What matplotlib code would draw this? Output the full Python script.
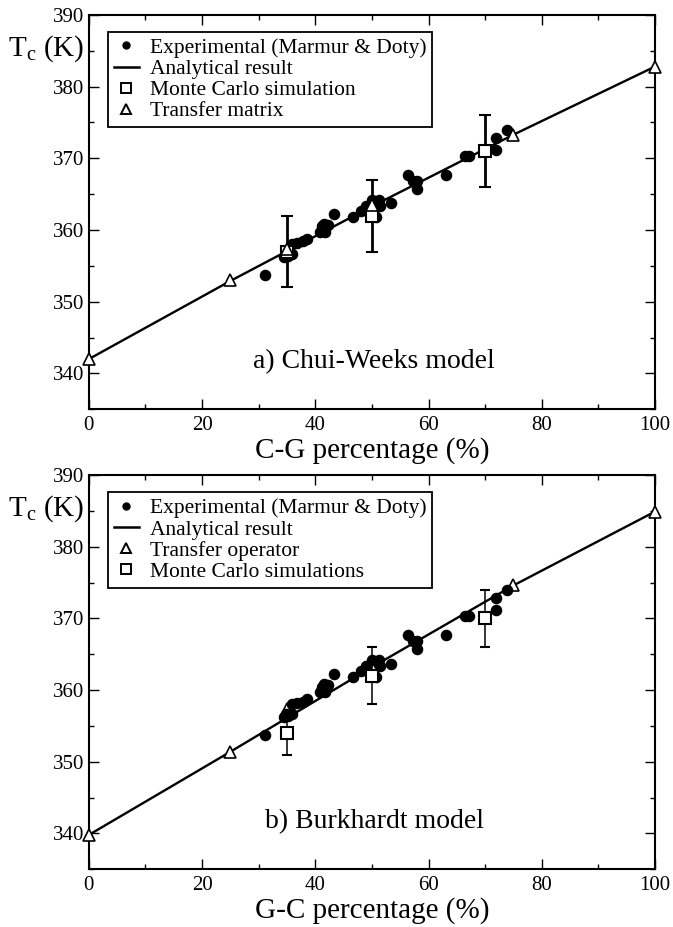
import numpy as np
import matplotlib
matplotlib.use("Agg")
import matplotlib.pyplot as plt
from matplotlib.lines import Line2D
from matplotlib.ticker import MultipleLocator

plt.rcParams['font.family'] = ['Liberation Serif', 'DejaVu Serif']
plt.rcParams['mathtext.fontset'] = 'custom'
plt.rcParams['mathtext.rm'] = 'Liberation Serif'

# --- datos experimentales (Marmur & Doty), iguales en ambos paneles ---
gc_exp = [31.1, 34.5, 34.8, 35.2, 35.8, 35.8, 36.7, 37.9, 38.5, 40.8, 41.1,
          41.5, 41.7, 42.3, 43.3, 46.6, 48.0, 48.9, 50.1, 50.8, 51.2, 51.4,
          53.4, 56.4, 57.3, 57.9, 58.0, 63.0, 66.4, 67.1, 71.9, 72.0, 73.8]
tc_exp = [353.7, 356.2, 356.7, 356.4, 356.7, 358.1, 358.2, 358.4, 358.8, 359.7, 360.5,
          360.8, 359.7, 360.7, 362.2, 361.8, 362.7, 363.3, 364.2, 361.8, 364.2, 363.3,
          363.7, 367.7, 366.9, 366.9, 365.7, 367.7, 370.3, 370.3, 372.8, 371.2, 373.9]

# --- a) Chui-Weeks ---
gc_line = [0, 25, 50, 75, 100]
tc_line_a = [342.0, 352.9, 363.3, 373.3, 382.8]
gc_tm = [0, 25, 35, 50, 75, 100]
tc_tm_a = [342.0, 353.0, 357.3, 363.5, 373.3, 382.8]
gc_mc = [35, 50, 70]
tc_mc_a = [357.0, 362.0, 371.0]
err_mc_a = [5, 5, 5]

# --- b) Burkhardt ---
tc_line_b = [339.8, 351.4, 363.2, 374.6, 384.9]
tc_tm_b = [339.8, 351.4, 357.4, 363.2, 374.6, 384.9]
tc_mc_b = [354.0, 362.0, 370.0]
err_mc_b = [3, 4, 4]

fig = plt.figure(figsize=(6.73, 9.27), dpi=100)
ax1 = fig.add_axes([0.132, 0.5585, 0.8413, 0.4254])
ax2 = fig.add_axes([0.132, 0.0622, 0.8413, 0.4254])


def estilo(ax, xlabel, titulo):
    ax.set_xlim(0, 100)
    ax.set_ylim(335, 390)
    ax.xaxis.set_major_locator(MultipleLocator(20))
    ax.xaxis.set_minor_locator(MultipleLocator(10))
    ax.yaxis.set_major_locator(MultipleLocator(10))
    ax.yaxis.set_minor_locator(MultipleLocator(5))
    ax.tick_params(which='both', direction='in', top=True, right=True, width=1.0)
    ax.tick_params(which='major', length=7.5, labelsize=15)
    ax.tick_params(which='minor', length=3.5)
    ax.tick_params(axis='x', pad=5)
    ax.tick_params(axis='y', pad=3.5)
    for s in ax.spines.values():
        s.set_linewidth(1.5)
    ax.set_xlabel(xlabel, fontsize=21, labelpad=1)
    ax.text(-0.1427, 0.896, r'T$_\mathregular{c}$ (K)', transform=ax.transAxes,
            fontsize=21, ha='left', va='baseline')
    ax.text(50.4, 341.6, titulo, fontsize=20, ha='center', va='center')


def leyenda(ax, entradas, y0):
    handles = []
    for tipo, lab in entradas:
        if tipo == 'o':
            h = Line2D([], [], ls='none', marker='o', ms=5, color='black')
        elif tipo == '-':
            h = Line2D([], [], ls='-', lw=1.8, color='black')
        else:
            h = Line2D([], [], ls='none', marker=tipo, ms=6.5, mfc='white',
                       mec='black', mew=1.4)
        handles.append(h)
    leg = ax.legend(handles, [e[1] for e in entradas], loc='upper left',
                    bbox_to_anchor=(0.034, y0), borderaxespad=0, fontsize=15.5,
                    frameon=True, fancybox=False, framealpha=1, edgecolor='black',
                    handlelength=1.15, handletextpad=0.5, labelspacing=0.05,
                    borderpad=0.28, numpoints=1)
    leg.get_frame().set_linewidth(1.3)


# panel a
ax1.plot(gc_line, tc_line_a, color='black', lw=1.7, zorder=2)
ax1.plot(gc_exp, tc_exp, 'o', color='black', ms=7.3, zorder=3)
ax1.errorbar(gc_mc, tc_mc_a, yerr=err_mc_a, fmt='s', ms=8, mfc='white', mec='black',
             mew=1.5, ecolor='black', elinewidth=2, capsize=4.2, capthick=2, zorder=4)
ax1.plot(gc_tm, tc_tm_a, '^', ms=9, mfc='white', mec='black', mew=1.2, zorder=5,
         clip_on=False)
estilo(ax1, 'C-G percentage (%)', 'a) Chui-Weeks model')
leyenda(ax1, [('o', 'Experimental (Marmur & Doty)'), ('-', 'Analytical result'),
              ('s', 'Monte Carlo simulation'), ('^', 'Transfer matrix')], 0.957)

# panel b
ax2.plot(gc_line, tc_line_b, color='black', lw=1.7, zorder=2)
ax2.plot(gc_tm, tc_tm_b, '^', ms=9, mfc='white', mec='black', mew=1.2, zorder=3,
         clip_on=False)
ax2.plot(gc_exp, tc_exp, 'o', color='black', ms=7.3, zorder=4)
ax2.errorbar(gc_mc, tc_mc_b, yerr=err_mc_b, fmt='s', ms=8, mfc='white', mec='black',
             mew=1.5, ecolor='black', elinewidth=1.1, capsize=3.8, capthick=1.1, zorder=5)
estilo(ax2, 'G-C percentage (%)', 'b) Burkhardt model')
leyenda(ax2, [('o', 'Experimental (Marmur & Doty)'), ('-', 'Analytical result'),
              ('^', 'Transfer operator'), ('s', 'Monte Carlo simulations')], 0.956)

fig.savefig('out.png', dpi=100)
